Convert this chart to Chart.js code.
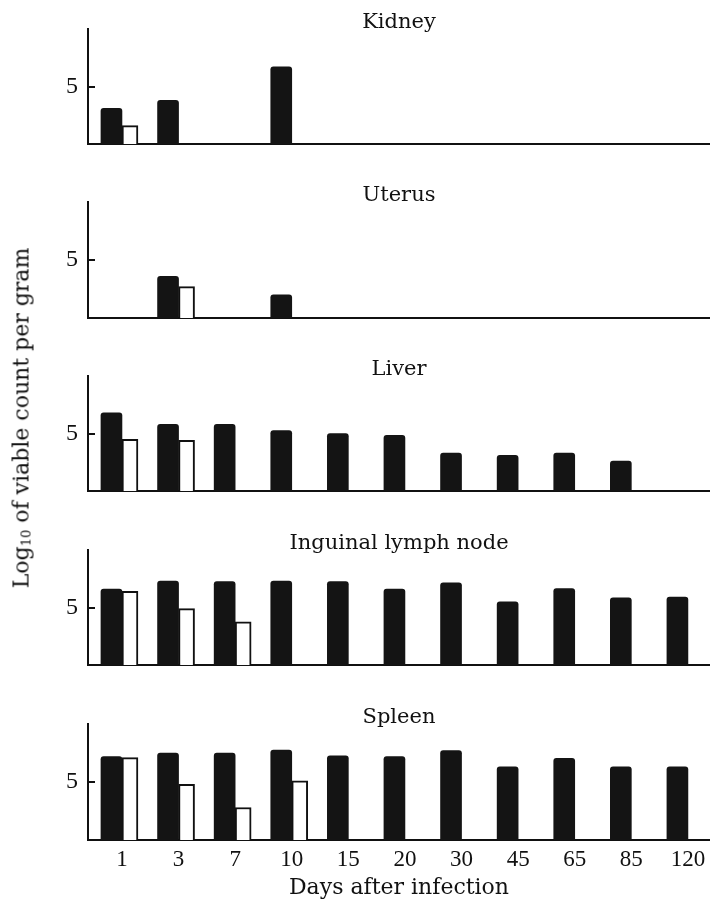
<!DOCTYPE html>
<html>
<head>
<meta charset="utf-8">
<script src="https://cdn.jsdelivr.net/npm/chart.js@4.4.1/dist/chart.umd.min.js"></script>
<style>
  html, body { margin: 0; padding: 0; background: #fff; }
  body { width: 710px; height: 902px; position: relative; overflow: hidden; }
  .panel { position: absolute; left: 0; width: 710px; }
  #ytitle {
    position: absolute; left: 21px; top: 418px;
    transform: translate(-50%, -50%) rotate(-90deg);
    font-family: "DejaVu Serif", serif; font-size: 22px; white-space: nowrap; color: #111;
  }
  #ytitle sub { font-size: 13px; vertical-align: -2px; }
</style>
</head>
<body>
<div class="panel" id="p0"><canvas id="c0"></canvas></div>
<div class="panel" id="p1"><canvas id="c1"></canvas></div>
<div class="panel" id="p2"><canvas id="c2"></canvas></div>
<div class="panel" id="p3"><canvas id="c3"></canvas></div>
<div class="panel" id="p4"><canvas id="c4"></canvas></div>
<div id="ytitle">Log<sub>10</sub> of viable count per gram</div>

<script>
// days after infection (x categories)
const days = ['1', '3', '7', '10', '15', '20', '30', '45', '65', '85', '120'];

const organs = ['Kidney', 'Uterus', 'Liver', 'Inguinal lymph node', 'Spleen'];

// log10 viable count per gram, filled (black) and open (white) bars
const kidneyFilled = [3.1, 3.8, null, 6.7, null, null, null, null, null, null, null];
const kidneyOpen   = [1.6, null, null, null, null, null, null, null, null, null, null];

const uterusFilled = [null, 3.6, null, 2.0, null, null, null, null, null, null, null];
const uterusOpen   = [null, 2.7, null, null, null, null, null, null, null, null, null];

const liverFilled = [6.8, 5.8, 5.8, 5.25, 5.0, 4.85, 3.3, 3.1, 3.3, 2.6, null];
const liverOpen   = [4.5, 4.4, null, null, null, null, null, null, null, null, null];

const lymphFilled = [6.6, 7.3, 7.25, 7.3, 7.25, 6.6, 7.15, 5.5, 6.65, 5.85, 5.9];
const lymphOpen   = [6.4, 4.9, 3.75, null, null, null, null, null, null, null, null];

const spleenFilled = [7.2, 7.5, 7.5, 7.75, 7.25, 7.2, 7.7, 6.3, 7.05, 6.3, 6.3];
const spleenOpen   = [7.1, 4.8, 2.8, 5.1, null, null, null, null, null, null, null];

const filledSets = [kidneyFilled, uterusFilled, liverFilled, lymphFilled, spleenFilled];
const openSets = [kidneyOpen, uterusOpen, liverOpen, lymphOpen, spleenOpen];

// y position of each panel's axis top and plot height
const plotTops = [29, 202, 376, 550, 724];
const plotHeights = [115, 116, 115, 115, 116];
const TOP_SPACE = 29;

function toPoints(arr) {
    return arr.map((v, i) => ({x: i, y: v}));
}

function makePanel(i) {
    const last = i === organs.length - 1;
    const box = document.getElementById('p' + i);
    const extra = last ? 61 : 3;
    box.style.top = (plotTops[i] - TOP_SPACE) + 'px';
    box.style.height = (TOP_SPACE + plotHeights[i] + extra) + 'px';

    new Chart(document.getElementById('c' + i), {
        type: 'bar',
        data: {
            datasets: [{
                data: toPoints(filledSets[i]),
                backgroundColor: '#141414',
                borderWidth: 0,
                borderRadius: {topLeft: 3, topRight: 3},
                barThickness: 21
            }, {
                data: toPoints(openSets[i]),
                backgroundColor: '#ffffff',
                borderColor: '#111',
                borderWidth: 2,
                barThickness: 16
            }]
        },
        options: {
            responsive: true,
            maintainAspectRatio: false,
            animation: false,
            layout: {padding: {top: 16.4, left: 0, right: 0, bottom: last ? 0 : 3}},
            plugins: {
                legend: {display: false},
                tooltip: {enabled: false},
                title: {
                    display: true,
                    text: organs[i],
                    fullSize: false,
                    color: '#111',
                    font: {family: "'DejaVu Serif', serif", size: 21, weight: 'normal', lineHeight: 0.6},
                    padding: {top: 0, bottom: 0}
                }
            },
            scales: {
                x: {
                    type: 'linear',
                    offset: false,
                    bounds: 'data',
                    min: -0.6,
                    max: 10.39,
                    afterBuildTicks: (scale) => {
                        scale.ticks = days.map((d, k) => ({value: k}));
                    },
                    afterFit: (scale) => {
                        scale.paddingLeft = 0;
                        scale.paddingRight = 0;
                    },
                    grid: {display: false, drawTicks: false},
                    border: {display: true, color: '#111', width: 2},
                    ticks: {
                        display: last,
                        autoSkip: false,
                        maxRotation: 0,
                        padding: 6,
                        color: '#111',
                        font: {family: "'Liberation Serif', serif", size: 23},
                        callback: (v) => days[v] ?? ''
                    },
                    title: {
                        display: last,
                        text: 'Days after infection',
                        color: '#111',
                        font: {family: "'DejaVu Serif', serif", size: 22},
                        padding: {top: -5, bottom: 0}
                    }
                },
                y: {
                    min: 0,
                    max: 10,
                    afterBuildTicks: (scale) => {
                        scale.ticks = [{value: 5}];
                    },
                    afterFit: (scale) => {
                        scale.width = 88;
                        scale.paddingTop = 0;
                        scale.paddingBottom = 0;
                    },
                    grid: {display: true, drawOnChartArea: false, drawTicks: true, tickLength: -7, color: '#111', lineWidth: 2},
                    border: {display: true, color: '#111', width: 2},
                    ticks: {
                        padding: 17,
                        color: '#111',
                        font: {family: "'Liberation Serif', serif", size: 24},
                        callback: (v) => String(v)
                    }
                }
            }
        }
    });
}

organs.forEach((o, i) => makePanel(i));
</script>
</body>
</html>
